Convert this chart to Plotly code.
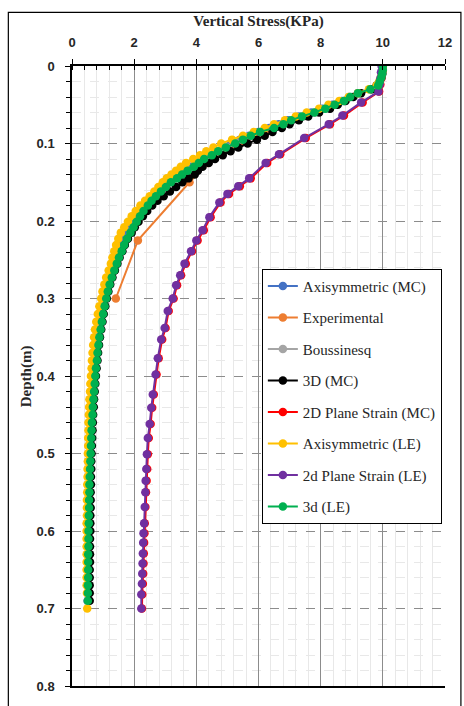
import plotly.graph_objects as go

# ---------------- data ----------------
depth_main = [0, 0.005, 0.01, 0.015, 0.02, 0.025, 0.03, 0.035, 0.04, 0.045,
              0.05, 0.055, 0.06, 0.065, 0.07, 0.075, 0.08, 0.085, 0.09, 0.095,
              0.1, 0.105, 0.11, 0.115, 0.12, 0.125, 0.13, 0.135, 0.14, 0.145,
              0.15, 0.156, 0.162, 0.168, 0.174, 0.18, 0.187, 0.194, 0.201, 0.208,
              0.215, 0.223, 0.231, 0.239, 0.247, 0.255, 0.264, 0.273, 0.282, 0.291,
              0.3, 0.31, 0.32, 0.33, 0.34, 0.35, 0.36, 0.37, 0.38, 0.39,
              0.4, 0.41, 0.42, 0.43, 0.44, 0.45, 0.46, 0.47, 0.48, 0.49,
              0.5, 0.51, 0.52, 0.53, 0.54, 0.55, 0.56, 0.57, 0.58, 0.59,
              0.6, 0.61, 0.62, 0.63, 0.64, 0.65, 0.66, 0.67, 0.68, 0.69]

depth_axi_le = [0, 0.005, 0.01, 0.015, 0.02, 0.025, 0.03, 0.035, 0.04, 0.045,
                0.05, 0.055, 0.06, 0.065, 0.07, 0.075, 0.08, 0.085, 0.09, 0.095,
                0.1, 0.105, 0.11, 0.115, 0.12, 0.125, 0.13, 0.135, 0.14, 0.145,
                0.15, 0.156, 0.162, 0.168, 0.174, 0.18, 0.187, 0.194, 0.201, 0.208,
                0.215, 0.223, 0.231, 0.239, 0.247, 0.255, 0.264, 0.273, 0.282, 0.291,
                0.3, 0.31, 0.32, 0.33, 0.34, 0.35, 0.36, 0.37, 0.38, 0.39,
                0.4, 0.41, 0.42, 0.43, 0.44, 0.45, 0.46, 0.47, 0.48, 0.49,
                0.5, 0.51, 0.52, 0.53, 0.54, 0.55, 0.56, 0.57, 0.58, 0.59,
                0.6, 0.61, 0.62, 0.63, 0.64, 0.65, 0.66, 0.67, 0.68, 0.70]

axi_mc = [10.0, 10.0, 9.97, 9.94, 9.9, 9.82, 9.58, 9.2, 8.92, 8.68,
          8.38, 8.05, 7.7, 7.3, 6.95, 6.65, 6.35, 6.0, 5.7, 5.4,
          5.1, 4.85, 4.6, 4.38, 4.15, 3.95, 3.76, 3.58, 3.4, 3.25,
          3.08, 2.92, 2.77, 2.62, 2.48, 2.35, 2.22, 2.1, 2.0, 1.9,
          1.8, 1.7, 1.61, 1.53, 1.45, 1.38, 1.31, 1.24, 1.17, 1.11,
          1.06, 1.01, 0.96, 0.92, 0.88, 0.84, 0.81, 0.78, 0.76, 0.74,
          0.72, 0.7, 0.68, 0.66, 0.65, 0.63, 0.62, 0.61, 0.6, 0.59,
          0.58, 0.57, 0.56, 0.56, 0.55, 0.55, 0.54, 0.54, 0.53, 0.53,
          0.53, 0.52, 0.52, 0.52, 0.51, 0.51, 0.51, 0.51, 0.5, 0.5]

boussinesq = [10.0, 10.0, 9.98, 9.95, 9.9, 9.84, 9.62, 9.25, 8.98, 8.75,
              8.48, 8.15, 7.82, 7.45, 7.1, 6.8, 6.5, 6.1, 5.8, 5.55,
              5.3, 5.0, 4.75, 4.52, 4.28, 4.1, 3.93, 3.74, 3.56, 3.4,
              3.2, 3.04, 2.88, 2.72, 2.58, 2.45, 2.31, 2.2, 2.09, 1.99,
              1.89, 1.78, 1.69, 1.61, 1.52, 1.45, 1.37, 1.29, 1.22, 1.16,
              1.11, 1.06, 1.01, 0.97, 0.93, 0.89, 0.86, 0.83, 0.8, 0.78,
              0.76, 0.74, 0.72, 0.7, 0.68, 0.66, 0.65, 0.64, 0.62, 0.61,
              0.6, 0.59, 0.58, 0.58, 0.57, 0.56, 0.56, 0.55, 0.55, 0.54,
              0.54, 0.54, 0.53, 0.53, 0.53, 0.52, 0.52, 0.52, 0.52, 0.51]

three_d_mc = [10.0, 10.0, 9.98, 9.95, 9.9, 9.8, 9.65, 9.3, 9.05, 8.8,
              8.55, 8.3, 7.95, 7.6, 7.3, 7.0, 6.75, 6.45, 6.2, 5.95,
              5.65, 5.35, 5.1, 4.85, 4.6, 4.4, 4.2, 4.05, 3.95, 3.75,
              3.55, 3.35, 3.15, 2.95, 2.75, 2.58, 2.42, 2.28, 2.14, 2.02,
              1.92, 1.8, 1.7, 1.62, 1.53, 1.46, 1.38, 1.3, 1.23, 1.17,
              1.12, 1.07, 1.02, 0.98, 0.94, 0.9, 0.87, 0.84, 0.82, 0.79,
              0.77, 0.75, 0.73, 0.71, 0.7, 0.68, 0.67, 0.66, 0.65, 0.64,
              0.63, 0.62, 0.62, 0.61, 0.61, 0.6, 0.6, 0.6, 0.59, 0.59,
              0.59, 0.58, 0.58, 0.58, 0.58, 0.57, 0.57, 0.57, 0.57, 0.57]

axi_le = [10.0, 10.0, 9.97, 9.93, 9.88, 9.8, 9.55, 9.2, 8.9, 8.6,
          8.25, 7.95, 7.55, 7.2, 6.85, 6.5, 6.2, 5.85, 5.5, 5.15,
          4.8, 4.55, 4.32, 4.12, 3.9, 3.67, 3.5, 3.35, 3.2, 3.05,
          2.92, 2.78, 2.65, 2.5, 2.35, 2.2, 2.05, 1.92, 1.8, 1.68,
          1.57, 1.49, 1.42, 1.36, 1.3, 1.25, 1.18, 1.1, 1.04, 0.98,
          0.94, 0.88, 0.83, 0.78, 0.74, 0.71, 0.68, 0.66, 0.64, 0.63,
          0.61, 0.59, 0.58, 0.56, 0.55, 0.54, 0.53, 0.53, 0.52, 0.52,
          0.51, 0.51, 0.5, 0.5, 0.49, 0.49, 0.48, 0.48, 0.48, 0.47,
          0.47, 0.47, 0.47, 0.47, 0.47, 0.47, 0.47, 0.47, 0.48, 0.49]

three_d_le = [10.0, 10.0, 9.98, 9.95, 9.9, 9.85, 9.6, 9.2, 8.95, 8.75,
              8.45, 8.15, 7.8, 7.4, 7.05, 6.8, 6.5, 6.05, 5.75, 5.5,
              5.25, 4.95, 4.7, 4.5, 4.25, 4.08, 3.92, 3.72, 3.54, 3.38,
              3.18, 3.02, 2.86, 2.7, 2.56, 2.44, 2.3, 2.19, 2.08, 1.98,
              1.88, 1.77, 1.68, 1.6, 1.51, 1.44, 1.36, 1.28, 1.21, 1.15,
              1.1, 1.05, 1.0, 0.96, 0.92, 0.88, 0.85, 0.82, 0.8, 0.77,
              0.75, 0.73, 0.71, 0.69, 0.67, 0.66, 0.64, 0.63, 0.62, 0.61,
              0.6, 0.59, 0.58, 0.57, 0.56, 0.56, 0.55, 0.55, 0.54, 0.54,
              0.53, 0.53, 0.53, 0.52, 0.52, 0.52, 0.52, 0.51, 0.51, 0.51]

depth_ps = [0, 0.008, 0.016, 0.024, 0.033, 0.047, 0.064, 0.075, 0.093, 0.114, 0.125, 0.145, 0.155,
            0.165, 0.176, 0.195, 0.212, 0.225, 0.239, 0.255, 0.27, 0.283, 0.3, 0.316, 0.338, 0.353,
            0.377, 0.398, 0.424, 0.441, 0.462, 0.48, 0.501, 0.52, 0.535, 0.55, 0.569, 0.59, 0.603,
            0.615, 0.629, 0.642, 0.655, 0.668, 0.682, 0.7]

ps_mc = [10.0, 9.97, 9.95, 9.92, 9.88, 9.35, 8.75, 8.3, 7.52, 6.7, 6.28, 5.75, 5.4, 5.05, 4.78, 4.46,
         4.24, 4.04, 3.86, 3.66, 3.51, 3.38, 3.27, 3.11, 3.01, 2.9, 2.79, 2.72, 2.63, 2.58, 2.53, 2.47,
         2.44, 2.42, 2.4, 2.38, 2.36, 2.34, 2.33, 2.32, 2.31, 2.3, 2.29, 2.28, 2.26, 2.25]

ps_le = [9.96, 9.94, 9.92, 9.9, 9.86, 9.3, 8.7, 8.26, 7.47, 6.66, 6.23, 5.7, 5.35, 5.0, 4.74, 4.42,
         4.2, 4.0, 3.83, 3.62, 3.48, 3.35, 3.24, 3.08, 2.98, 2.87, 2.76, 2.69, 2.6, 2.55, 2.5, 2.44,
         2.41, 2.39, 2.37, 2.36, 2.34, 2.32, 2.3, 2.29, 2.28, 2.27, 2.26, 2.25, 2.23, 2.23]

depth_exp = [0.05, 0.1, 0.125, 0.15, 0.225, 0.3]
experimental = [8.5, 5.4, 4.35, 3.78, 2.12, 1.41]

series = [
    ("Axisymmetric (MC)", axi_mc, depth_main, "#4472C4"),
    ("Experimental", experimental, depth_exp, "#ED7D31"),
    ("Boussinesq", boussinesq, depth_main, "#A5A5A5"),
    ("3D (MC)", three_d_mc, depth_main, "#000000"),
    ("2D Plane Strain (MC)", ps_mc, depth_ps, "#FF0000"),
    ("Axisymmetric (LE)", axi_le, depth_axi_le, "#FFC000"),
    ("2d Plane Strain (LE)", ps_le, depth_ps, "#7030A0"),
    ("3d (LE)", three_d_le, depth_main, "#00B050"),
]

fig = go.Figure()
for i, (name, xs, ys, col) in enumerate(series):
    fig.add_trace(go.Scatter(
        x=xs, y=ys, name=name, mode="lines+markers",
        line=dict(color=col, width=2),
        marker=dict(color=col, size=8.5, symbol="circle"),
        legendgroup=f"g{i}",
    ))

tick_font = dict(family="Liberation Sans", size=13, color="#262626", weight="bold")
title_font = dict(family="Liberation Serif", size=15, color="#262626", weight="bold")

fig.update_layout(
    width=464, height=706,
    margin=dict(l=72, r=17, t=66, b=16),
    paper_bgcolor="white", plot_bgcolor="white",
    showlegend=True,
    legend=dict(
        x=0.509, y=0.673, xanchor="left", yanchor="top",
        bgcolor="white", bordercolor="black", borderwidth=1,
        font=dict(family="Liberation Serif", size=15, color="#262626"),
        tracegroupgap=9, itemwidth=30,
    ),
    xaxis=dict(
        side="top", range=[0, 12], dtick=2, tick0=0,
        showline=True, linecolor="black", linewidth=1.5, mirror=True,
        ticks="outside", ticklen=5, tickcolor="black", ticklabelstandoff=7,
        showgrid=True, gridcolor="#8c8c8c", gridwidth=1,
        minor=dict(dtick=0.4, showgrid=True, gridcolor="#e8e8e8", gridwidth=1,
                   ticks="inside", ticklen=4, tickcolor="black"),
        tickfont=tick_font, zeroline=False,
        title=dict(text="Vertical Stress(KPa)", font=title_font, standoff=5),
    ),
    yaxis=dict(
        range=[0.8, 0], dtick=0.1, tick0=0,
        showline=True, linecolor="black", linewidth=1.5,
        ticks="outside", ticklen=5, tickcolor="black", ticklabelstandoff=8,
        showgrid=True, gridcolor="#8c8c8c", gridwidth=1, griddash="dash",
        minor=dict(dtick=0.02, showgrid=True, gridcolor="#e8e8e8", gridwidth=1,
                   ticks="outside", ticklen=4, tickcolor="black"),
        tickfont=tick_font, zeroline=False,
    ),
    annotations=[dict(text="Depth(m)", xref="paper", yref="paper",
                      x=(26 - 72) / 375, y=0.5, xanchor="center", yanchor="middle",
                      textangle=-90, showarrow=False, font=title_font)],
    shapes=[dict(type="rect", xref="paper", yref="paper",
                 x0=(8 - 72) / 375, x1=(463 - 72) / 375,
                 y0=(690 - 712) / 624, y1=(690 - 12) / 624,
                 line=dict(color="black", width=1.2), fillcolor="rgba(0,0,0,0)",
                 layer="below")],
)

fig.write_html("out.html")
